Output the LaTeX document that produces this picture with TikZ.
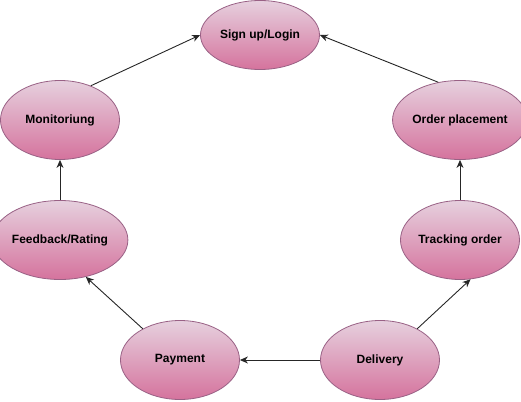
\documentclass[tikz,border=0pt]{standalone}
\usepackage{fontspec}
\setmainfont{Liberation Sans}
\usetikzlibrary{shapes.geometric,arrows.meta}
\definecolor{pinktop}{HTML}{E6D0DE}
\definecolor{pinkbot}{HTML}{D5739D}
\definecolor{pinkline}{HTML}{996185}
\tikzset{>={Stealth[length=8pt,width=7pt,inset=2.5pt]}}

\begin{document}
\begin{tikzpicture}[x=1pt,y=-1pt]
	\tikzstyle{stage} = [ellipse, draw=pinkline, line width=0.8pt, top color=pinktop, bottom color=pinkbot, minimum width=119pt, minimum height=79pt, inner sep=0pt, font=\fontsize{12}{14}\selectfont\bfseries]
	\tikzstyle{link} = [->, line width=0.9pt, draw=black!85]

	\useasboundingbox (0,0) rectangle (521,401);

%----------top------------------------------
	\node[stage, minimum height=69pt] (sign) at (260,35) {Sign up/Login};

%----------left side------------------------
	\node[stage] (mon) at (60,120) {Monitoriung};
	\node[stage] (feed) at (60,240) {Feedback/Rating};
	\node[stage] (pay) at (180,360) {Payment};

%----------right side-----------------------
	\node[stage] (ord) at (460,120) {Order placement};
	\node[stage] (track) at (460,240) {Tracking order};
	\node[stage] (deliv) at (380,360) {Delivery};

%----------arrows---------------------------
	\draw[link] (deliv.west) -- (pay.east);
	\draw[link] (deliv.40) -- (track.-75);
	\draw[link] (track.north) -- (ord.south);
	\draw[link] (ord.120) -- (sign.east);
	\draw[link] (pay.140) -- (feed.-55);
	\draw[link] (feed.north) -- (mon.south);
	\draw[link] (mon.48) -- (sign.west);

\end{tikzpicture}
\end{document}
